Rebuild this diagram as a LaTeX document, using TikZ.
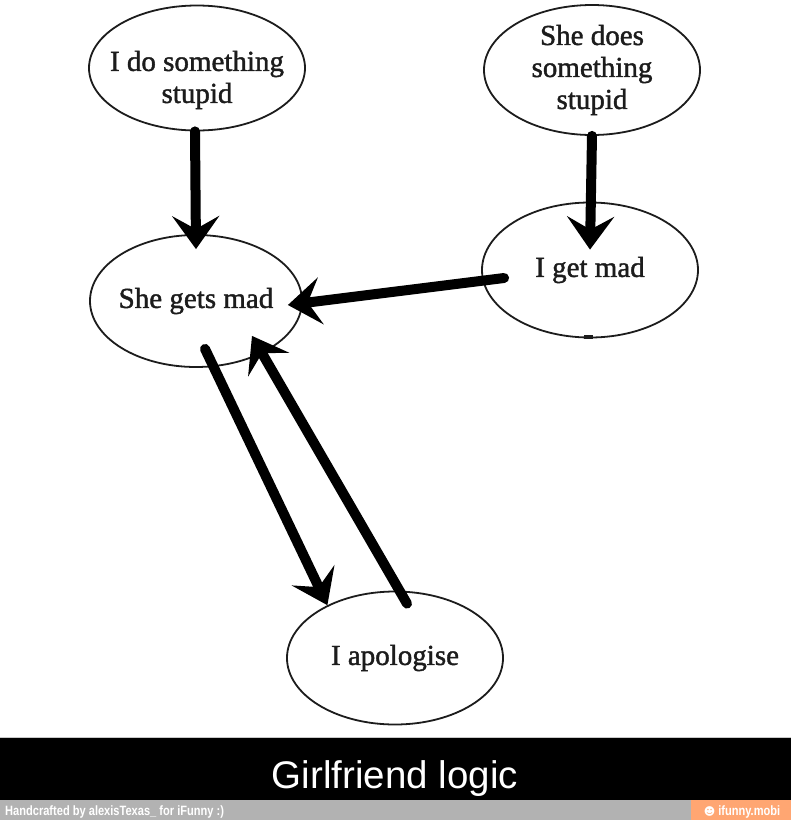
\documentclass[tikz,border=0pt]{standalone}
\usepackage{fontspec}
\setmainfont{Liberation Serif}
\newfontfamily\ovalfont{Liberation Serif}[FakeBold=1.4]
\newfontfamily\capfont{Liberation Sans}
\newfontfamily\footfont{Liberation Sans}[FakeStretch=0.82]
\newfontfamily\symfont{DejaVu Sans}
\usetikzlibrary{shapes.geometric, arrows.meta}
\definecolor{footgray}{RGB}{178,178,178}
\definecolor{siteorange}{RGB}{255,166,114}
\definecolor{inkgray}{RGB}{28,28,28}

\begin{document}
\begin{tikzpicture}[
  x=1pt, y=-1pt,
  state_oval/.style={ellipse, draw=inkgray, line width=1.8pt, minimum width=216pt, minimum height=130pt,
    inner xsep=-20pt, inner ysep=-12pt, align=center, text=inkgray, font=\ovalfont\fontsize{29}{32}\selectfont},
  big_arrow/.style={line width=10pt, line cap=round, -{Stealth[length=33pt, width=47pt, inset=13pt]}},
]
\useasboundingbox (0,0) rectangle (791,820);
\fill[white] (0,0) rectangle (791,820);

% the five states
\node (oops_me) [state_oval, minimum height=125pt] at (197,68) {\rule{0pt}{44pt}I do something\\stupid};
\node (oops_her) [state_oval] at (592,70) {She does\\something\\stupid};
\node (mad_her) [state_oval, minimum width=212pt, minimum height=132pt] at (196,301) {She gets mad};
\node (mad_me) [state_oval, minimum height=135pt] at (590,270) {I get mad};
\node (sorry_me) [state_oval, minimum height=133pt] at (395,658) {I apologise};
\fill[inkgray] (584,335) rectangle (593,339);
\fill[white] (462,596) circle (6pt);

% arrows
\draw[big_arrow] ([xshift=-2pt]oops_me.south) -- ([yshift=-15pt]mad_her.north);
\draw[big_arrow] (oops_her.south) -- ([yshift=-48pt]mad_me.north);
\draw[big_arrow] ([xshift=23pt, yshift=-8pt]mad_me.west) -- ([xshift=-15pt, yshift=-4pt]mad_her.east);
\draw[big_arrow] ([xshift=9pt, yshift=19pt]mad_her.south) -- (sorry_me.142);
\draw[big_arrow] ([xshift=12pt, yshift=-13pt]sorry_me.north) -- ([xshift=56pt, yshift=32pt]mad_her.south);

% caption bars
\fill[black] (0,738) rectangle (791,800);
\draw[footgray!70, line width=1pt] (0,737.5) -- (791,737.5);
\fill[footgray] (0,800) rectangle (691,820);
\fill[siteorange] (691,800) rectangle (791,820);
\node (title) [anchor=base, text=white, font=\capfont\fontsize{38.5}{40}\selectfont] at (395,788) {Girlfriend logic};
\node (credit) [anchor=base west, inner sep=0pt, text=white, font=\footfont\bfseries\fontsize{13.5}{14}\selectfont] at (5,815) {Handcrafted by alexisTexas\_ for iFunny :)};
\node (site) [anchor=base, inner sep=0pt, text=white, font=\footfont\bfseries\fontsize{13.5}{14}\selectfont] at (742,815) {{\symfont\fontsize{11}{12}\selectfont ☻} ifunny.mobi};
\end{tikzpicture}
\end{document}
